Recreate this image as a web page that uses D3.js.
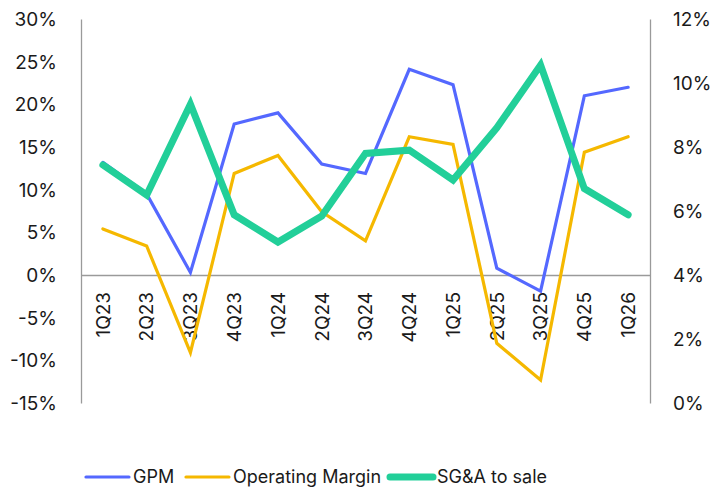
<!DOCTYPE html>
<html>
<head>
<meta charset="utf-8">
<script src="https://cdn.jsdelivr.net/npm/d3@7"></script>
<style>
  body { margin: 0; background: #fff; }
  text { font-family: Inter, "Noto Sans", sans-serif; fill: #1a1a1a; }
</style>
</head>
<body>
<svg width="726" height="488"></svg>
<script>
const quarters = ['1Q23','2Q23','3Q23','4Q23','1Q24','2Q24','3Q24','4Q24','1Q25','2Q25','3Q25','4Q25','1Q26']
const gpm = [13.2, 9.5, 0.3, 17.7, 19.0, 13.0, 11.9, 24.1, 22.3, 0.8, -1.9, 21.0, 22.0]
const opMargin = [5.4, 3.4, -9.1, 11.9, 14.0, 7.4, 4.0, 16.2, 15.3, -8.0, -12.3, 14.4, 16.2]
const sgaToSale = [7.44, 6.5, 9.34, 5.88, 5.03, 5.84, 7.8, 7.9, 6.97, 8.6, 10.56, 6.7, 5.88]
const leftTicks = [-15, -10, -5, 0, 5, 10, 15, 20, 25, 30]
const rightTicks = [0, 2, 4, 6, 8, 10, 12]

const margin = { top: 19, left: 81, right: 76, bottom: 85 }
const width = 726, height = 488

const svg = d3.select('svg')

/* SCALES */
const x = d3.scaleBand()
  .domain(quarters)
  .range([margin.left, width - margin.right])

const yLeft = d3.scaleLinear()
  .domain([-15, 30])
  .range([height - margin.bottom, margin.top])

const yRight = d3.scaleLinear()
  .domain([0, 12])
  .range([height - margin.bottom, margin.top])

const cx = d => x(d) + x.bandwidth() / 2

/* AXES */
const leftAxis = svg.append('g')
  .attr('transform', `translate(${margin.left},0)`)
  .call(d3.axisLeft(yLeft).tickValues(leftTicks).tickSize(0).tickPadding(24).tickFormat(d => d + '%'))
leftAxis.select('.domain').attr('stroke', '#9a9a9a').attr('stroke-width', 1.3)

const rightAxis = svg.append('g')
  .attr('transform', `translate(${width - margin.right},0)`)
  .call(d3.axisRight(yRight).tickValues(rightTicks).tickSize(0).tickPadding(23).tickFormat(d => d + '%'))
rightAxis.select('.domain').attr('stroke', '#9a9a9a').attr('stroke-width', 1.3)

svg.selectAll('.tick text')
  .style('font-size', '19px')
  .attr('dy', '0.35em')

/* ZERO LINE + CATEGORY LABELS */
const xAxis = svg.append('g')
  .attr('transform', `translate(0,${yLeft(0)})`)
  .call(d3.axisBottom(x).tickSize(0).tickPadding(0))
xAxis.select('.domain').attr('stroke', '#9a9a9a').attr('stroke-width', 1.3)
xAxis.selectAll('.tick text')
  .style('font-size', '19px')
  .attr('text-anchor', 'end')
  .attr('transform', 'translate(0,17) rotate(-90)')
  .attr('x', 0)
  .attr('y', 0)
  .attr('dy', '0.36em')

/* LINES */
const series = [
  { name: 'GPM', values: gpm, scale: yLeft, color: '#5468ff', width: 3.2 },
  { name: 'Operating Margin', values: opMargin, scale: yLeft, color: '#f5b800', width: 3.2 },
  { name: 'SG&A to sale', values: sgaToSale, scale: yRight, color: '#22cf99', width: 7 }
]

series.forEach(s => {
  const line = d3.line()
    .x((d, i) => cx(quarters[i]))
    .y(d => s.scale(d))
  svg.append('path')
    .datum(s.values)
    .attr('d', line)
    .attr('fill', 'none')
    .attr('stroke', s.color)
    .attr('stroke-width', s.width)
    .attr('stroke-linejoin', 'miter')
    .attr('stroke-linecap', 'round')
})

/* LEGEND */
const legendX = [86, 186, 390]
const legend = svg.append('g').attr('transform', 'translate(0,477)')
series.forEach((s, i) => {
  const g = legend.append('g').attr('transform', `translate(${legendX[i]},0)`)
  g.append('line')
    .attr('x1', 0).attr('x2', 43)
    .attr('stroke', s.color)
    .attr('stroke-width', s.width)
    .attr('stroke-linecap', 'round')
  g.append('text')
    .attr('x', 47)
    .attr('dy', '0.35em')
    .style('font-size', '18px')
    .text(s.name)
})
</script>
</body>
</html>
